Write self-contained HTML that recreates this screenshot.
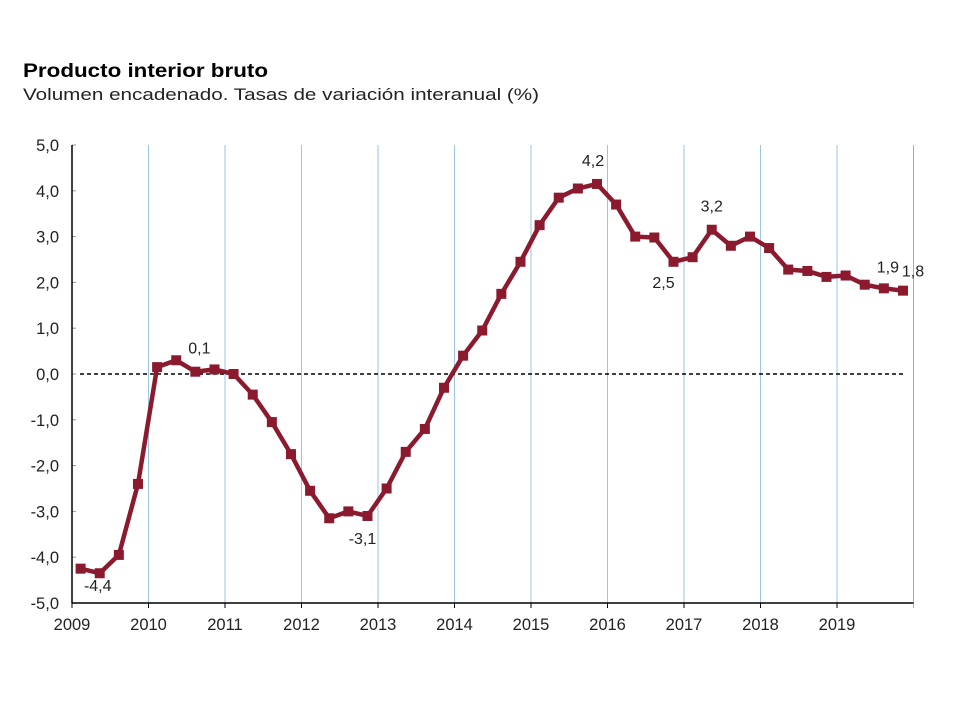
<!DOCTYPE html>
<html><head><meta charset="utf-8"><style>
body{margin:0;background:#fff;width:960px;height:720px;overflow:hidden;font-family:"Liberation Sans",Arial,sans-serif}
</style></head><body>
<svg width="960" height="720" style="position:absolute;left:0;top:0">
<text x="23" y="77" font-size="19" font-weight="bold" fill="#000" textLength="245" lengthAdjust="spacingAndGlyphs">Producto interior bruto</text>
<text x="23" y="100" font-size="17" fill="#222" textLength="516" lengthAdjust="spacingAndGlyphs">Volumen encadenado. Tasas de variación interanual (%)</text>
<g id="grid"></g><g id="axes"></g><g id="series"></g><g id="labels"></g>
</svg>
<script>
const years=[2009,2010,2011,2012,2013,2014,2015,2016,2017,2018,2019];
const yTicks=[5,4,3,2,1,0,-1,-2,-3,-4,-5];
const values=[-4.25,-4.35,-3.95,-2.4, 0.15,0.3,0.05,0.1, 0.0,-0.45,-1.05,-1.75, -2.55,-3.15,-3.0,-3.1, -2.5,-1.7,-1.2,-0.3, 0.4,0.95,1.75,2.45, 3.25,3.85,4.05,4.15, 3.7,3.0,2.98,2.45, 2.55,3.15,2.8,3.0, 2.75,2.28,2.25,2.12, 2.15,1.95,1.87,1.82];
const annotations=[[1,"-4,4",-2,18],[6,"0,1",4,-18],[15,"-3,1",-5,28],[27,"4,2",-4,-18],[31,"2,5",-10,26],[33,"3,2",0,-18],[42,"1,9",4,-16],[43,"1,8",10,-14]];
const NS="http://www.w3.org/2000/svg";
const x0=72,yearW=76.5,yTop=145,yBot=603;
function xs(i){return x0+(i+0.45)*yearW/4;}
function xy(yr){return x0+(yr-2009)*yearW;}
function ys(v){return yTop+(5-v)*(yBot-yTop)/10;}
function mk(tag,attrs,parent){const e=document.createElementNS(NS,tag);for(const k in attrs)e.setAttribute(k,attrs[k]);document.getElementById(parent).appendChild(e);return e;}
years.forEach(yr=>{
  const x=xy(yr);
  if(yr>2009){const g=mk('line',{x1:x,x2:x,y1:yTop,y2:yBot,stroke:'#9dc3e6','stroke-width':1},'grid');
  
  }
  mk('line',{x1:x,x2:x,y1:yBot,y2:yBot+5,stroke:'#000'},'axes');
  const t=mk('text',{x:x,y:yBot+27,'font-size':16.5,'text-anchor':'middle',fill:'#222'},'axes');
  t.textContent=yr;
  
  
});
const endX=xy(2020);
const el=mk('line',{x1:endX,x2:endX,y1:yTop,y2:yBot+5,stroke:'#aaa'},'grid');


yTicks.forEach(v=>{
  const y=ys(v);
  mk('line',{x1:x0,x2:x0+4,y1:y,y2:y,stroke:'#999'},'axes');
  const t=mk('text',{x:59,y:y+6,'font-size':16.5,'text-anchor':'end',fill:'#222'},'axes');
  t.textContent=v.toFixed(1).replace('.',',');
  
  
});
const zl=mk('line',{x1:x0+8,x2:905,y1:ys(0),y2:ys(0),stroke:'#000','stroke-width':1.6,'stroke-dasharray':'4,3'},'axes');


const ya=mk('line',{x1:x0,x2:x0,y1:yTop,y2:yBot,stroke:'#000','stroke-width':1.5},'axes');


const xa=mk('line',{x1:x0,x2:endX,y1:yBot,y2:yBot,stroke:'#000','stroke-width':1.5},'axes');


const pl=mk('polyline',{points:values.map((v,i)=>xs(i)+','+ys(v)).join(' '),fill:'none',stroke:'#8b1a2f','stroke-width':4.5,'stroke-linejoin':'round'},'series');


values.forEach((v,i)=>{
  const r=mk('rect',{x:xs(i)-5,y:ys(v)-5,width:10,height:10,fill:'#8b1a2f'},'series');
  
  
});
annotations.forEach(a=>{
  const t=mk('text',{x:xs(a[0])+a[2],y:ys(values[a[0]])+a[3],'font-size':16,'text-anchor':'middle',fill:'#222'},'labels');
  t.textContent=a[1];
  
  
});
</script>
</body></html>
